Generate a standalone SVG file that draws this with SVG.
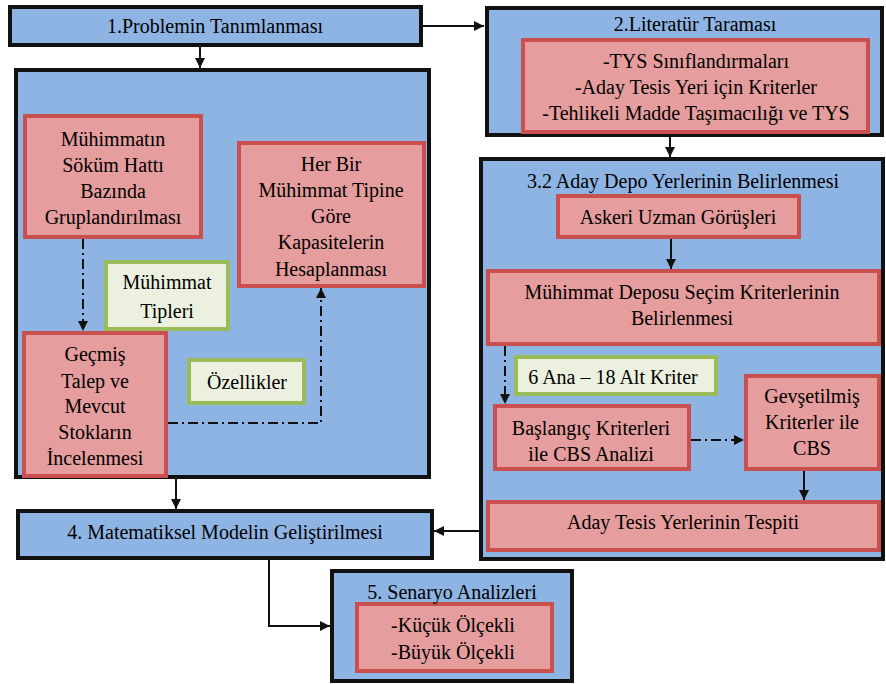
<svg xmlns="http://www.w3.org/2000/svg" width="886" height="684" viewBox="0 0 886 684">
<defs>
<marker id="ah" markerWidth="10" markerHeight="10" refX="10" refY="5" orient="auto" markerUnits="userSpaceOnUse">
<path d="M0,0 L10,5 L0,10 Z" fill="#111"/>
</marker>
</defs>
<rect width="886" height="684" fill="#fff"/>
<g id="n1">
<rect fill="#8DB4E2" stroke="#111" stroke-width="4" x="10" y="7" width="411" height="38"/>
<text x="215" y="33" font-family="Liberation Serif" font-size="20" text-anchor="middle">1.Problemin Tanımlanması</text>
</g>
<g id="n2">
<rect fill="#8DB4E2" stroke="#111" stroke-width="4" x="487" y="8" width="395" height="127"/>
<rect fill="#E59D9D" stroke="#C9504E" stroke-width="4" x="523" y="40" width="345" height="92"/>
<text x="695" y="31" font-family="Liberation Serif" font-size="20" text-anchor="middle">2.Literatür Taraması</text>
<text x="696" y="68" font-family="Liberation Serif" font-size="20" text-anchor="middle">-TYS Sınıflandırmaları</text>
<text x="696" y="94" font-family="Liberation Serif" font-size="20" text-anchor="middle">-Aday Tesis Yeri için Kriterler</text>
<text x="696" y="120" font-family="Liberation Serif" font-size="20" text-anchor="middle">-Tehlikeli Madde Taşımacılığı ve TYS</text>
</g>
<g id="n3">
<rect fill="#8DB4E2" stroke="#111" stroke-width="4" x="16" y="70" width="413" height="407"/>
</g>
<g id="n3a">
<rect fill="#E59D9D" stroke="#C9504E" stroke-width="4" x="25" y="116" width="176" height="121"/>
<text x="113" y="146" font-family="Liberation Serif" font-size="20" text-anchor="middle">Mühimmatın</text>
<text x="113" y="172" font-family="Liberation Serif" font-size="20" text-anchor="middle">Söküm Hattı</text>
<text x="113" y="198" font-family="Liberation Serif" font-size="20" text-anchor="middle">Bazında</text>
<text x="113" y="224" font-family="Liberation Serif" font-size="20" text-anchor="middle">Gruplandırılması</text>
</g>
<g id="n3b">
<rect fill="#E59D9D" stroke="#C9504E" stroke-width="4" x="239" y="143" width="185" height="143"/>
<text x="331" y="171" font-family="Liberation Serif" font-size="20" text-anchor="middle">Her Bir</text>
<text x="331" y="197" font-family="Liberation Serif" font-size="20" text-anchor="middle">Mühimmat Tipine</text>
<text x="331" y="223" font-family="Liberation Serif" font-size="20" text-anchor="middle">Göre</text>
<text x="331" y="249" font-family="Liberation Serif" font-size="20" text-anchor="middle">Kapasitelerin</text>
<text x="331" y="276" font-family="Liberation Serif" font-size="20" text-anchor="middle">Hesaplanması</text>
</g>
<g id="n3c">
<rect fill="#EBF1DE" stroke="#9BBB59" stroke-width="4" x="106" y="262" width="122" height="67"/>
<text x="167" y="289" font-family="Liberation Serif" font-size="20" text-anchor="middle">Mühimmat</text>
<text x="167" y="318" font-family="Liberation Serif" font-size="20" text-anchor="middle">Tipleri</text>
</g>
<g id="n3d">
<rect fill="#E59D9D" stroke="#C9504E" stroke-width="4" x="24" y="333" width="142" height="143"/>
<text x="95" y="361" font-family="Liberation Serif" font-size="20" text-anchor="middle">Geçmiş</text>
<text x="95" y="388" font-family="Liberation Serif" font-size="20" text-anchor="middle">Talep ve</text>
<text x="95" y="413" font-family="Liberation Serif" font-size="20" text-anchor="middle">Mevcut</text>
<text x="95" y="439" font-family="Liberation Serif" font-size="20" text-anchor="middle">Stokların</text>
<text x="95" y="465" font-family="Liberation Serif" font-size="20" text-anchor="middle">İncelenmesi</text>
</g>
<g id="n3e">
<rect fill="#EBF1DE" stroke="#9BBB59" stroke-width="4" x="189" y="360" width="115" height="43"/>
<text x="247" y="389" font-family="Liberation Serif" font-size="20" text-anchor="middle">Özellikler</text>
</g>
<g id="n4">
<rect fill="#8DB4E2" stroke="#111" stroke-width="4" x="481" y="159" width="402" height="400"/>
<text x="683" y="188" font-family="Liberation Serif" font-size="20" text-anchor="middle">3.2 Aday Depo Yerlerinin Belirlenmesi</text>
</g>
<g id="n4a">
<rect fill="#E59D9D" stroke="#C9504E" stroke-width="4" x="558" y="196" width="241" height="41"/>
<text x="678" y="224" font-family="Liberation Serif" font-size="20" text-anchor="middle">Askeri Uzman Görüşleri</text>
</g>
<g id="n4b">
<rect fill="#E59D9D" stroke="#C9504E" stroke-width="4" x="488" y="271" width="391" height="73"/>
<text x="682" y="299" font-family="Liberation Serif" font-size="20" text-anchor="middle">Mühimmat Deposu Seçim Kriterlerinin</text>
<text x="682" y="325" font-family="Liberation Serif" font-size="20" text-anchor="middle">Belirlenmesi</text>
</g>
<g id="n4c">
<rect fill="#EBF1DE" stroke="#9BBB59" stroke-width="4" x="516" y="357" width="200" height="37"/>
<text x="613" y="384" font-family="Liberation Serif" font-size="20" text-anchor="middle">6 Ana – 18 Alt Kriter</text>
</g>
<g id="n4d">
<rect fill="#E59D9D" stroke="#C9504E" stroke-width="4" x="495" y="406" width="194" height="63"/>
<text x="591" y="435" font-family="Liberation Serif" font-size="20" text-anchor="middle">Başlangıç Kriterleri</text>
<text x="591" y="461" font-family="Liberation Serif" font-size="20" text-anchor="middle">ile CBS Analizi</text>
</g>
<g id="n4e">
<rect fill="#E59D9D" stroke="#C9504E" stroke-width="4" x="746" y="376" width="133" height="93"/>
<text x="812" y="403" font-family="Liberation Serif" font-size="20" text-anchor="middle">Gevşetilmiş</text>
<text x="812" y="429" font-family="Liberation Serif" font-size="20" text-anchor="middle">Kriterler ile</text>
<text x="812" y="455" font-family="Liberation Serif" font-size="20" text-anchor="middle">CBS</text>
</g>
<g id="n4f">
<rect fill="#E59D9D" stroke="#C9504E" stroke-width="4" x="488" y="502" width="391" height="48"/>
<text x="683" y="529" font-family="Liberation Serif" font-size="20" text-anchor="middle">Aday Tesis Yerlerinin Tespiti</text>
</g>
<g id="n5">
<rect fill="#8DB4E2" stroke="#111" stroke-width="4" x="18" y="511" width="414" height="47"/>
<text x="225" y="539" font-family="Liberation Serif" font-size="20" text-anchor="middle">4. Matematiksel Modelin Geliştirilmesi</text>
</g>
<g id="n6">
<rect fill="#8DB4E2" stroke="#111" stroke-width="4" x="332" y="571" width="240" height="110"/>
<rect fill="#E59D9D" stroke="#C9504E" stroke-width="4" x="357" y="604" width="195" height="67"/>
<text x="452" y="599" font-family="Liberation Serif" font-size="20" text-anchor="middle">5. Senaryo Analizleri</text>
<text x="453" y="632" font-family="Liberation Serif" font-size="20" text-anchor="middle">-Küçük Ölçekli</text>
<text x="453" y="659" font-family="Liberation Serif" font-size="20" text-anchor="middle">-Büyük Ölçekli</text>
</g>
<g id="connectors" fill="none" stroke="#111" stroke-width="2">
<line x1="423" y1="26" x2="484" y2="26" marker-end="url(#ah)"/>
<line x1="200" y1="47" x2="200" y2="68" marker-end="url(#ah)"/>
<line x1="670" y1="137" x2="670" y2="157" marker-end="url(#ah)"/>
<line x1="671" y1="239" x2="671" y2="269" marker-end="url(#ah)"/>
<line stroke-dasharray="10 4 2 4" x1="505" y1="346" x2="505" y2="404" marker-end="url(#ah)"/>
<line stroke-dasharray="10 4 2 4" x1="691" y1="440" x2="744" y2="440" marker-end="url(#ah)"/>
<line x1="804" y1="471" x2="804" y2="500" marker-end="url(#ah)"/>
<line x1="479" y1="531" x2="434" y2="531" marker-end="url(#ah)"/>
<line x1="176" y1="479" x2="176" y2="509" marker-end="url(#ah)"/>
<polyline points="269,560 269,626 330,626" marker-end="url(#ah)"/>
<line stroke-dasharray="10 4 2 4" x1="83" y1="239" x2="83" y2="331" marker-end="url(#ah)"/>
<polyline stroke-dasharray="10 4 2 4" points="168,423 321,423 321,288" marker-end="url(#ah)"/>
</g>
</svg>
